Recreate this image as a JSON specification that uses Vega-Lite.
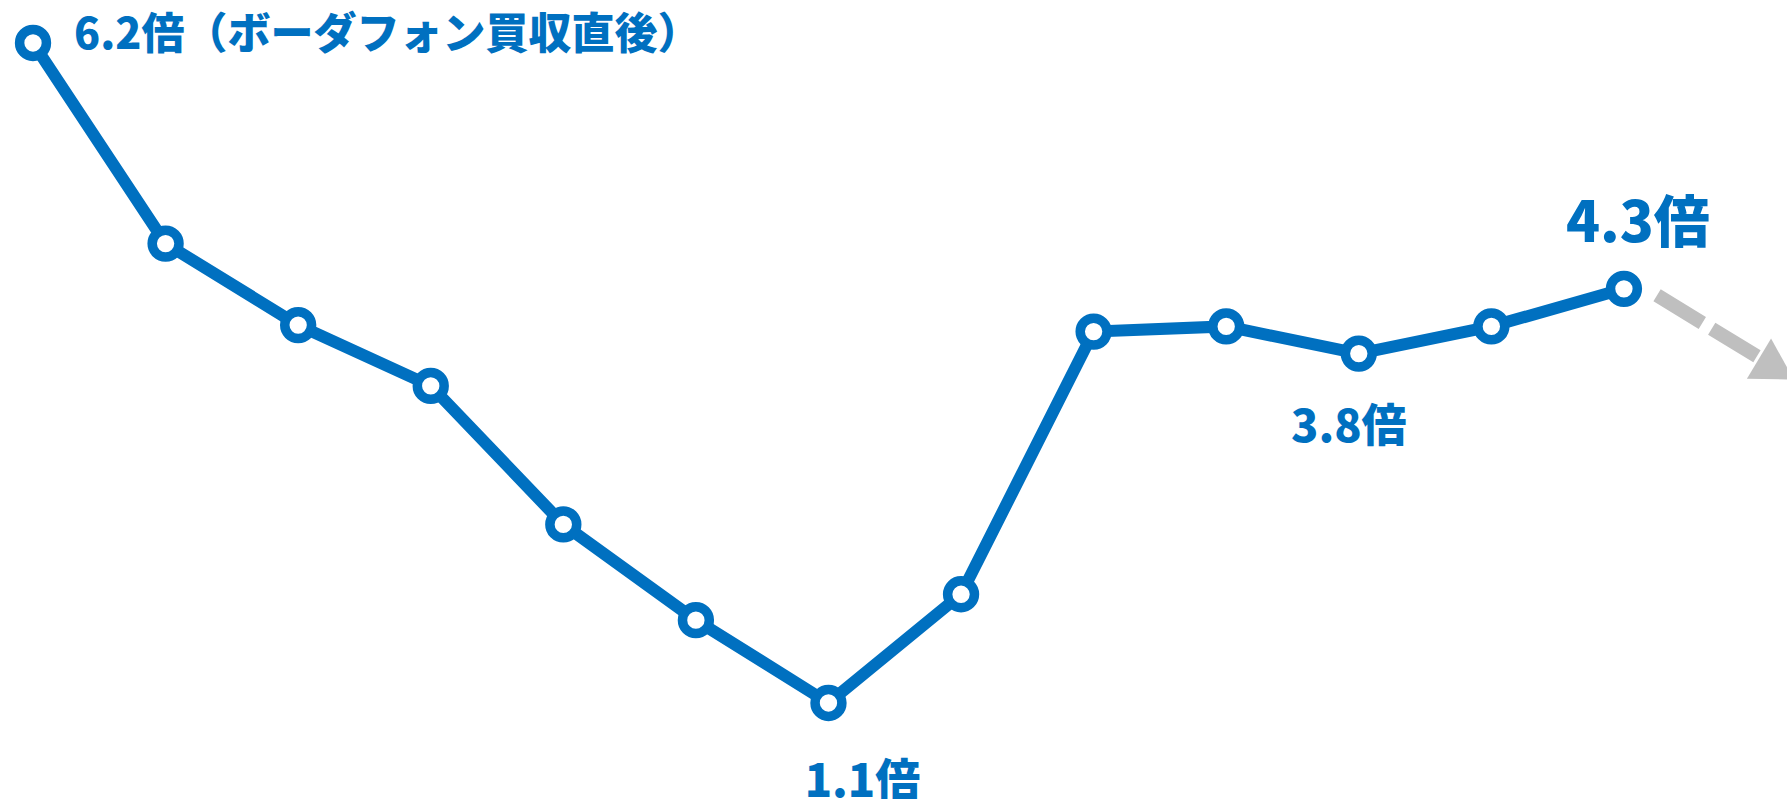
{
  "$schema": "https://vega.github.io/schema/vega-lite/v6.json",
  "width": 1787,
  "height": 799,
  "autosize": {"type": "none"},
  "padding": 0,
  "background": "white",
  "config": {"view": {"stroke": null}},
  "datasets": {
    "series": [
      {"i": 0, "v": 6.2, "label": "6.2倍（ボーダフォン買収直後）"},
      {"i": 1, "v": 4.65, "label": ""},
      {"i": 2, "v": 4.02, "label": ""},
      {"i": 3, "v": 3.55, "label": ""},
      {"i": 4, "v": 2.48, "label": ""},
      {"i": 5, "v": 1.74, "label": ""},
      {"i": 6, "v": 1.1, "label": "1.1倍"},
      {"i": 7, "v": 1.94, "label": ""},
      {"i": 8, "v": 3.97, "label": ""},
      {"i": 9, "v": 4.01, "label": ""},
      {"i": 10, "v": 3.8, "label": "3.8倍"},
      {"i": 11, "v": 4.01, "label": ""},
      {"i": 12, "v": 4.3, "label": "4.3倍"}
    ],
    "trend": [
      {"i": 12.25, "v": 4.25},
      {"i": 13.05, "v": 3.75}
    ],
    "head": [
      {"i": 13.15, "v": 3.68}
    ]
  },
  "encoding": {
    "x": {"field": "i", "type": "quantitative", "axis": null, "scale": {"domain": [-0.249, 13.23], "nice": false, "zero": false}},
    "y": {"field": "v", "type": "quantitative", "axis": null, "scale": {"domain": [0.358, 6.532], "nice": false, "zero": false}}
  },
  "layer": [
    {
      "data": {"name": "trend"},
      "mark": {"type": "line", "color": "#BFBFBF", "strokeWidth": 14, "strokeDash": [53, 11], "strokeCap": "butt", "clip": true}
    },
    {
      "data": {"name": "head"},
      "mark": {"type": "point", "shape": "triangle-right", "angle": 31, "size": 2200, "filled": true, "color": "#BFBFBF", "opacity": 1, "clip": true}
    },
    {
      "data": {"name": "series"},
      "mark": {"type": "line", "color": "#0070C0", "strokeWidth": 12}
    },
    {
      "data": {"name": "series"},
      "mark": {"type": "point", "shape": "circle", "size": 720, "filled": false, "fill": "white", "fillOpacity": 1, "stroke": "#0070C0", "strokeWidth": 9.5, "opacity": 1}
    },
    {
      "data": {"name": "series"},
      "transform": [{"filter": "datum.i == 0"}],
      "mark": {"type": "text", "align": "left", "baseline": "middle", "dx": 41, "dy": -7, "font": "Noto Sans CJK JP", "fontWeight": 900, "fontSize": 43, "color": "#0070C0"},
      "encoding": {"text": {"field": "label"}}
    },
    {
      "data": {"name": "series"},
      "transform": [{"filter": "datum.i == 12"}],
      "mark": {"type": "text", "align": "center", "baseline": "middle", "dx": 14, "dy": -64, "font": "Noto Sans CJK JP", "fontWeight": 900, "fontSize": 56, "color": "#0070C0"},
      "encoding": {"text": {"field": "label"}}
    },
    {
      "data": {"name": "series"},
      "transform": [{"filter": "datum.i == 10"}],
      "mark": {"type": "text", "align": "center", "baseline": "middle", "dx": -10, "dy": 74, "font": "Noto Sans CJK JP", "fontWeight": 900, "fontSize": 45, "color": "#0070C0"},
      "encoding": {"text": {"field": "label"}}
    },
    {
      "data": {"name": "series"},
      "transform": [{"filter": "datum.i == 6"}],
      "mark": {"type": "text", "align": "center", "baseline": "middle", "dx": 34, "dy": 80, "font": "Noto Sans CJK JP", "fontWeight": 900, "fontSize": 45, "color": "#0070C0"},
      "encoding": {"text": {"field": "label"}}
    }
  ]
}
